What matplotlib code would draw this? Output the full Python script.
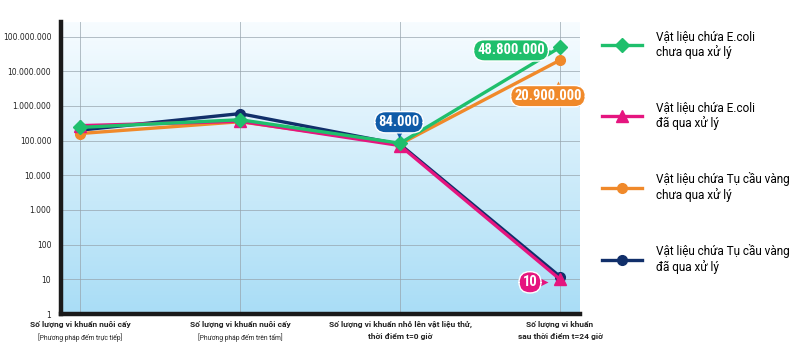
import numpy as np
import matplotlib
matplotlib.use("Agg")
import matplotlib.pyplot as plt
from matplotlib import font_manager
from matplotlib.transforms import ScaledTranslation

categories = [
    "Số lượng vi khuẩn nuôi cấy\n[Phương pháp đếm trực tiếp]",
    "Số lượng vi khuẩn nuôi cấy\n[Phương pháp đếm trên tấm]",
    "Số lượng vi khuẩn nhỏ lên vật liệu thử,\nthời điểm t=0 giờ",
    "Số lượng vi khuẩn\nsau thời điểm t=24 giờ",
]
series_names = [
    "Vật liệu chứa E.coli\nchưa qua xử lý",
    "Vật liệu chứa E.coli\nđã qua xử lý",
    "Vật liệu chứa Tụ cầu vàng\nchưa qua xử lý",
    "Vật liệu chứa Tụ cầu vàng\nđã qua xử lý",
]
ecoli_untreated = [240000, 400000, 84000, 48800000]
ecoli_treated = [270000, 360000, 72000, 10]
staph_untreated = [160000, 350000, 80000, 20900000]
staph_treated = [200000, 600000, 78000, 12]
yticks = [1, 10, 100, 1000, 10000, 100000, 1000000, 10000000, 100000000]
ytick_labels = ["1", "10", "100", "1.000", "10.000", "100.000", "1.000.000",
                "10.000.000", "100.000.000"]

green = "#1fbf6c"
pink = "#e5157f"
orange = "#f0892a"
navy = "#112f6a"

# pick a condensed face for the value callouts if one is available
available = {f.name for f in font_manager.fontManager.ttflist}
narrow = [f for f in ["Liberation Sans Narrow", "Roboto Condensed", "DejaVu Sans Condensed"]
          if f in available]
lbl_font = narrow[:1] + ["DejaVu Sans"]
lbl_stretch = "normal" if narrow else "condensed"

fig = plt.figure(figsize=(8.1, 3.52), dpi=100)
ax = fig.add_axes([61 / 810, 1 - 314 / 352, (580 - 61) / 810, (314 - 22) / 352])

x = np.arange(len(categories))

# gradient background
grad = np.linspace(0, 1, 256).reshape(-1, 1)
cmap = matplotlib.colors.LinearSegmentedColormap.from_list("bg", ["#a9ddf6", "#f7fcff"])
ax.imshow(grad, aspect="auto", cmap=cmap, origin="lower", extent=[0, 1, 0, 1],
          transform=ax.transAxes, zorder=0)

ax.set_yscale("log")
ax.set_xlim(-0.119, 3.125)
ax.set_ylim(1, 10 ** 8.42)
ax.set_yticks(yticks)
ax.set_yticklabels(ytick_labels)
ax.yaxis.set_minor_locator(matplotlib.ticker.NullLocator())
ax.set_xticks(x)
ax.set_xticklabels([])
ax.grid(True, color="#96a3ac", linewidth=0.7, alpha=0.7)
ax.set_axisbelow(True)
ax.tick_params(axis="both", length=0)
ax.tick_params(axis="y", labelsize=5.5, pad=7, labelcolor="#222222")
for s in ["top", "right"]:
    ax.spines[s].set_visible(False)
for s in ["left", "bottom"]:
    ax.spines[s].set_linewidth(3.2)
    ax.spines[s].set_color("#1a1a1a")

lw = 2.4
h_navy, = ax.plot(x, staph_treated, color=navy, lw=lw, marker="o", ms=7, zorder=3)
h_orange, = ax.plot(x, staph_untreated, color=orange, lw=lw, marker="o", ms=7, zorder=3)
h_pink, = ax.plot(x, ecoli_treated, color=pink, lw=lw, marker="^", ms=8, zorder=4)
h_green, = ax.plot(x, ecoli_untreated, color=green, lw=lw, marker="D", ms=7, zorder=5)

# category labels below axis
for i, lab in enumerate(categories):
    first, second = lab.split("\n")
    ax.annotate(first, xy=(i, 0), xycoords=("data", "axes fraction"),
                xytext=(0, -5), textcoords="offset points", ha="center", va="top",
                fontsize=6, fontweight="bold", color="#222222", family="Roboto")
    small = i < 2
    ax.annotate(second, xy=(i, 0), xycoords=("data", "axes fraction"),
                xytext=(0, -13.5 if small else -14), textcoords="offset points",
                ha="center", va="top",
                fontsize=4.8 if small else 6, color="#222222", family="Roboto",
                fontweight="normal" if small else "bold")

# value callouts: (text, x index, value, box offset px, nub offset px, nub marker, colour)
callouts = [
    ("48.800.000", 3, ecoli_untreated[3], (-49, -3), (-12, -4), ">", green),
    ("20.900.000", 3, staph_untreated[3], (-12, -36), (-2, -25), "^", orange),
    ("84.000", 2, ecoli_untreated[2], (-1, 21), (-1, 9), "v", "#0f5ba8"),
    ("10", 3, ecoli_treated[3], (-30, -3), (-16, -3), ">", pink),
]
for txt, xi, yv, boff, noff, nm, col in callouts:
    ax.annotate(txt, xy=(xi, yv), xytext=(boff[0] * 0.72, boff[1] * 0.72),
                textcoords="offset points", ha="center", va="center",
                fontsize=10.5, fontweight="bold", color="white", family=lbl_font,
                fontstretch=lbl_stretch, zorder=8,
                bbox=dict(boxstyle="round,pad=0.25,rounding_size=0.75", fc=col, ec="white", lw=1.0))
    tr = ax.transData + ScaledTranslation(noff[0] / 100, noff[1] / 100, fig.dpi_scale_trans)
    ax.plot([xi], [yv], marker=nm, ms=6, color=col, mec="none", transform=tr, zorder=7)

handles = [h_green, h_pink, h_orange, h_navy]
fig.legend(handles, series_names, loc="upper left", bbox_to_anchor=(591 / 810, 1 - 19 / 352),
           frameon=False, handlelength=3.4, handletextpad=1.2,
           labelspacing=3.55, prop={"family": "Roboto", "size": 8.5})

fig.savefig("out.png", dpi=100)
